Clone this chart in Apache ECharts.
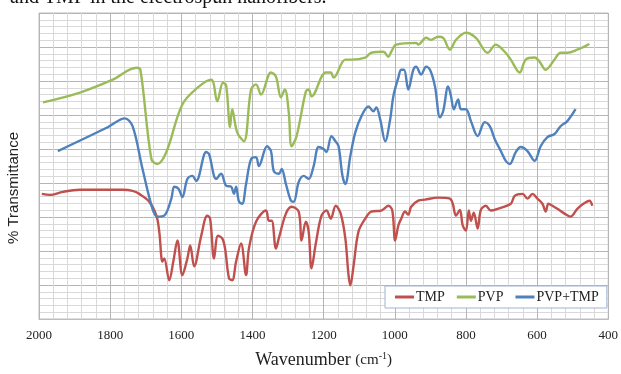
<!DOCTYPE html>
<html>
<head>
<meta charset="utf-8">
<script src="https://cdn.jsdelivr.net/npm/echarts@6/dist/echarts.min.js"></script>
<style>
  html, body { margin: 0; padding: 0; background: #fff; }
  #chart { width: 621px; height: 374px; }
</style>
</head>
<body>
<div id="chart"></div>
<script>
// FTIR spectra, wavenumber (cm-1) vs arbitrary % transmittance
const xTicks = [2000, 1800, 1600, 1400, 1200, 1000, 800, 600, 400]

const tmpWave = [1992, 1969, 1933, 1885, 1765, 1737, 1718, 1690, 1670, 1662, 1653, 1648, 1634, 1622, 1611, 1597, 1583, 1575, 1564, 1544, 1527, 1519, 1508, 1497, 1485, 1477, 1466, 1457, 1446, 1432, 1418, 1410, 1390, 1362, 1354, 1346, 1334, 1326, 1306, 1290, 1270, 1262, 1250, 1242, 1234, 1222, 1206, 1192, 1180, 1166, 1152, 1139, 1130, 1125, 1116, 1102, 1083, 1066, 1038, 1018, 1007, 999, 990, 982, 971, 962, 954, 934, 915, 878, 845, 837, 828, 817, 809, 800, 792, 786, 778, 767, 758, 744, 730, 711, 674, 663, 641, 627, 613, 599, 585, 576, 568, 557, 543, 523, 506, 487, 470, 453, 445]
const tmpT = [36.8, 36.5, 37.4, 38.0, 38.0, 37.7, 36.8, 34.5, 30.4, 25.7, 16.9, 17.8, 11.4, 17.2, 23.1, 12.9, 17.8, 21.6, 15.5, 24.5, 30.4, 29.5, 17.8, 24.5, 23.7, 20.7, 12.0, 11.4, 16.9, 22.2, 12.9, 20.7, 28.6, 31.9, 28.9, 28.9, 20.7, 23.7, 31.0, 33.0, 31.6, 23.1, 28.6, 25.7, 14.9, 22.2, 30.4, 31.9, 29.5, 33.3, 31.0, 23.7, 12.9, 9.9, 15.5, 25.7, 29.5, 31.6, 31.9, 33.3, 31.9, 23.1, 27.5, 29.5, 31.6, 30.7, 33.0, 34.8, 35.1, 35.7, 35.4, 33.9, 30.4, 32.1, 27.5, 26.0, 31.9, 28.9, 31.3, 26.6, 32.1, 33.3, 31.9, 32.4, 33.9, 36.2, 36.8, 35.4, 36.8, 35.4, 33.9, 31.6, 33.9, 33.3, 32.4, 31.0, 30.1, 32.4, 33.9, 34.8, 33.3]

const pvpWave = [1989, 1885, 1793, 1726, 1715, 1684, 1667, 1642, 1597, 1550, 1516, 1499, 1483, 1474, 1463, 1457, 1443, 1424, 1404, 1390, 1376, 1348, 1334, 1320, 1309, 1298, 1290, 1276, 1250, 1242, 1234, 1194, 1180, 1172, 1139, 1122, 1083, 1066, 1032, 1018, 1010, 996, 940, 934, 912, 898, 878, 864, 845, 828, 800, 772, 739, 716, 691, 674, 649, 632, 607, 593, 576, 551, 534, 515, 487, 453]
const pvpT = [63.7, 66.6, 70.4, 73.9, 73.3, 47.0, 45.6, 49.1, 63.1, 68.4, 70.4, 64.0, 69.5, 68.7, 56.4, 61.7, 54.9, 52.3, 67.5, 69.0, 66.0, 72.5, 71.3, 65.2, 67.5, 60.8, 50.8, 53.8, 66.9, 67.5, 65.5, 72.5, 72.5, 71.0, 76.3, 76.3, 76.9, 78.3, 78.6, 77.1, 78.6, 80.7, 81.2, 80.7, 82.7, 82.1, 83.0, 82.7, 79.2, 82.1, 84.2, 82.7, 78.3, 80.7, 78.6, 76.3, 72.5, 76.3, 76.9, 75.7, 73.3, 76.3, 78.3, 78.3, 79.2, 80.9]

const blendWave = [1947, 1807, 1759, 1737, 1709, 1681, 1667, 1648, 1628, 1620, 1608, 1597, 1583, 1569, 1558, 1530, 1522, 1502, 1488, 1474, 1460, 1452, 1446, 1438, 1429, 1418, 1404, 1390, 1382, 1359, 1348, 1340, 1326, 1318, 1306, 1292, 1284, 1270, 1256, 1242, 1228, 1214, 1200, 1192, 1178, 1167, 1158, 1147, 1139, 1125, 1111, 1094, 1074, 1060, 1052, 1041, 1027, 1013, 1004, 990, 982, 974, 962, 948, 940, 926, 912, 901, 887, 873, 864, 850, 842, 834, 822, 814, 800, 786, 767, 747, 733, 719, 702, 688, 677, 660, 646, 627, 607, 590, 571, 551, 534, 515, 492]
const blendT = [49.4, 56.4, 59.0, 56.7, 44.1, 32.4, 30.1, 30.4, 35.4, 38.9, 38.3, 35.9, 41.2, 42.1, 40.6, 49.1, 48.5, 41.2, 42.7, 39.2, 38.9, 36.8, 38.9, 34.5, 33.9, 39.7, 47.0, 47.6, 45.0, 50.8, 49.4, 43.5, 42.7, 44.1, 39.7, 34.8, 34.5, 40.3, 42.1, 41.2, 45.0, 50.6, 50.0, 49.1, 53.8, 52.3, 50.8, 42.1, 39.7, 47.9, 54.9, 59.6, 62.5, 61.1, 62.2, 58.7, 52.3, 58.7, 65.5, 71.0, 73.3, 73.3, 67.5, 73.3, 74.2, 71.9, 74.2, 73.3, 68.4, 59.3, 61.1, 68.4, 65.5, 61.7, 64.6, 61.7, 61.7, 58.2, 53.8, 57.9, 56.7, 52.9, 49.4, 46.5, 45.6, 49.1, 50.6, 49.4, 46.5, 50.8, 53.5, 54.4, 56.7, 58.2, 61.7]

const seriesNames = ['TMP', 'PVP', 'PVP+TMP']
const seriesColors = ['#c0504d', '#9bbb59', '#4f81bd']

function pairs(xs, ys) {
  return xs.map((x, i) => [x, ys[i]])
}

const chart = echarts.init(document.getElementById('chart'), null, { renderer: 'canvas' })

const spectra = [pairs(tmpWave, tmpT), pairs(pvpWave, pvpT), pairs(blendWave, blendT)]

chart.setOption({
  animation: false,
  backgroundColor: '#fff',
  grid: {
    left: 39, right: 10, top: 13, bottom: 53,
    show: true, borderColor: '#bdbdbd', borderWidth: 1
  },
  xAxis: {
    type: 'value',
    inverse: true,
    min: xTicks[xTicks.length - 1],
    max: xTicks[0],
    interval: 200,
    axisLine: { show: true, lineStyle: { color: '#bdbdbd' } },
    axisTick: { show: false },
    minorTick: { show: false, splitNumber: 5 },
    splitLine: { show: true, lineStyle: { color: '#b5b5b5', width: 1 } },
    minorSplitLine: { show: true, lineStyle: { color: '#d9d9d9', width: 1 } },
    axisLabel: {
      color: '#222', fontFamily: 'Liberation Serif', fontSize: 13, margin: 10,
      formatter: v => String(v)
    },
    name: '{a|Wavenumber }{b|(cm}{c|-1}{b|)}',
    nameLocation: 'middle',
    nameGap: 32,
    nameTextStyle: {
      rich: {
        a: { fontFamily: 'Liberation Serif', fontSize: 18, color: '#222' },
        b: { fontFamily: 'Liberation Serif', fontSize: 15, color: '#222' },
        c: { fontFamily: 'Liberation Serif', fontSize: 10, color: '#222', verticalAlign: 'top', padding: [0, 0, 8, 0] }
      }
    }
  },
  yAxis: {
    type: 'value',
    min: 0, max: 90, interval: 10,
    axisLine: { show: false },
    axisTick: { show: false },
    axisLabel: { show: false },
    minorTick: { show: false, splitNumber: 5 },
    splitLine: { show: true, lineStyle: { color: '#b5b5b5', width: 1 } },
    minorSplitLine: { show: true, lineStyle: { color: '#d9d9d9', width: 1 } }
  },
  legend: {
    left: 385, top: 286,
    padding: [4, 8, 4, 10],
    itemGap: 12,
    itemWidth: 19, itemHeight: 3,
    icon: 'rect',
    backgroundColor: '#fff',
    borderColor: '#9fb4d2', borderWidth: 1,
    textStyle: { fontFamily: 'Liberation Serif', fontSize: 14, color: '#222', padding: [0, 0, 0, -3] },
    data: seriesNames
  },
  graphic: [
    {
      type: 'text', left: 10, top: -12, silent: true,
      style: { text: 'and TMP in the electrospun nanofibers.', fontFamily: 'Liberation Serif', fontSize: 20, fill: '#111' }
    },
    {
      type: 'text', silent: true, rotation: Math.PI / 2,
      x: 14, y: 188,
      style: { text: '% Transmittance', fontFamily: 'Liberation Sans', fontSize: 15, fill: '#222', align: 'center', verticalAlign: 'middle' }
    }
  ],
  series: seriesNames.map((name, i) => ({
    name,
    type: 'line',
    data: spectra[i],
    smooth: 0.35,
    showSymbol: false,
    lineStyle: { color: seriesColors[i], width: 2.4 },
    itemStyle: { color: seriesColors[i] }
  }))
})
</script>
</body>
</html>
